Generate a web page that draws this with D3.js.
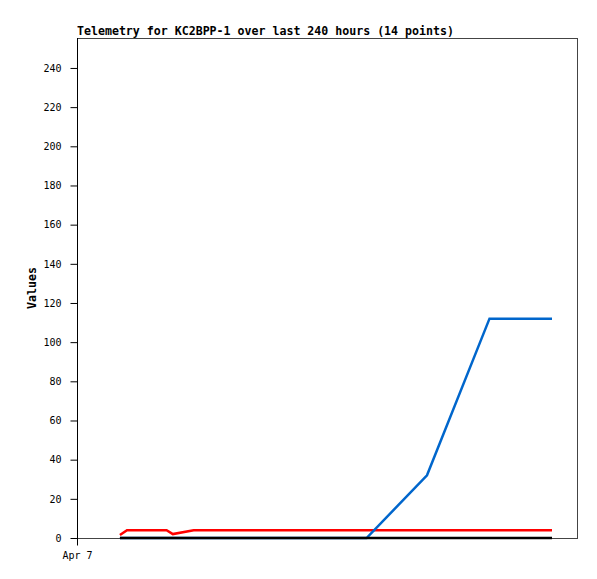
<!DOCTYPE html>
<html>
<head>
<meta charset="utf-8">
<script src="https://cdn.jsdelivr.net/npm/d3@7"></script>
<style>
  body { margin: 0; background: #fff; }
  text { font-family: 'DejaVu Sans Mono', 'Liberation Mono', monospace; }
</style>
</head>
<body>
<svg id="chart" width="597" height="579"></svg>
<script>
// hours after Apr 7 00:00
const hours = [20.6, 24, 43, 46, 56, 70, 85, 100, 115, 128, 139, 168, 198, 228];
const red = [1.5, 4, 4, 2, 4, 4, 4, 4, 4, 4, 4, 4, 4, 4];
const blue = [0, 0, 0, 0, 0, 0, 0, 0, 0, 0, 0, 32, 112, 112];
const black = [0, 0, 0, 0, 0, 0, 0, 0, 0, 0, 0, 0, 0, 0];
const yTicks = [0, 20, 40, 60, 80, 100, 120, 140, 160, 180, 200, 220, 240];
const xTickLabels = ['Apr 7'];

const svg = d3.select('#chart');
const plotL = 77, plotR = 577, plotT = 38, plotB = 538;

const x = d3.scaleLinear().domain([0, 240]).range([plotL, plotR]);
const y = d3.scaleLinear().domain([0, 255.3]).range([plotB, plotT]);

svg.append('text')
  .attr('x', plotL)
  .attr('y', 35)
  .attr('font-size', '11.6px')
  .attr('font-weight', 'bold')
  .text('Telemetry for KC2BPP-1 over last 240 hours (14 points)');

svg.append('rect')
  .attr('x', plotL + 0.5)
  .attr('y', plotT + 0.5)
  .attr('width', plotR - plotL)
  .attr('height', plotB - plotT)
  .attr('fill', 'none')
  .attr('stroke', '#444');

const line = d3.line().x((d, i) => x(hours[i])).y(d => y(d));

[[red, '#ff0000'], [blue, '#0066cc'], [black, '#000']].forEach(([s, c]) => {
  svg.append('path')
    .datum(s)
    .attr('d', line)
    .attr('fill', 'none')
    .attr('stroke', c)
    .attr('stroke-width', 2.5);
});

const yAxis = svg.append('g')
  .attr('transform', `translate(${plotL + 0.5},0)`)
  .call(d3.axisLeft(y).tickValues(yTicks).tickSize(7).tickPadding(9));
yAxis.select('.domain').attr('d', `M0,${plotT}V${plotB + 7}`);
yAxis.selectAll('text').attr('font-family', null).attr('font-size', '10px');

const xAxis = svg.append('g')
  .attr('transform', `translate(0,${plotB + 0.5})`)
  .call(d3.axisBottom(x).tickValues([0]).tickFormat((d, i) => xTickLabels[i]).tickSize(7).tickPadding(6));
xAxis.select('.domain').remove();
xAxis.selectAll('text').attr('font-family', null).attr('font-size', '10px');

svg.append('text')
  .attr('transform', 'translate(36,288) rotate(-90)')
  .attr('text-anchor', 'middle')
  .attr('font-size', '11.6px')
  .attr('font-weight', 'bold')
  .text('Values');
</script>
</body>
</html>
